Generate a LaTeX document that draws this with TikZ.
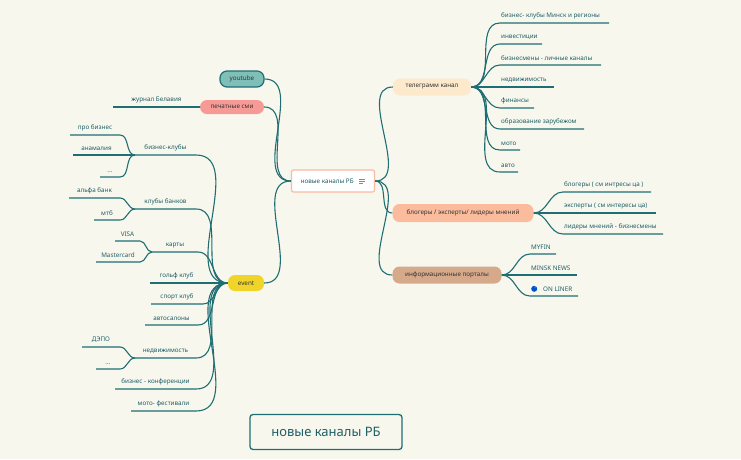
\documentclass[tikz,border=0pt]{standalone}
\usepackage{fontspec}
\setmainfont{Noto Sans}
\begin{document}
\begin{tikzpicture}[x=1pt,y=-1pt,
  ln/.style={draw=lc,line width=1.1pt},
  tx/.style={text=tc,font=\fontsize{6.3}{7}\selectfont,inner sep=1pt},
  pill/.style={rounded corners=7pt,draw=none,text=black!80,font=\fontsize{6.3}{7}\selectfont,inner sep=0pt,minimum height=16pt}]
\definecolor{lc}{HTML}{1E6E73}
\definecolor{tc}{HTML}{1D5F66}
\definecolor{bg}{HTML}{F8F7EE}
\fill[bg] (0,0) rectangle (741,459);
\useasboundingbox (0,0) rectangle (741,459);
% main nodes
\node[draw={rgb,255:red,250;green,185;blue,160},line width=1.2pt,fill=white,rounded corners=2pt,minimum width=83pt,minimum height=22pt,inner sep=0pt,font=\fontsize{6.3}{7}\selectfont,text=tc] (c) at (333,181) {новые каналы РБ\hspace{5pt}\raisebox{0.3pt}{\tikz[x=1pt,y=1pt]{\draw[lc!70,line width=0.6pt] (0,4)--(6,4) (0,2)--(6,2) (0,0)--(4,0);}}};
\node[pill,fill={rgb,255:red,127;green,191;blue,184},draw=lc,line width=1.2pt,minimum width=44pt] (yt) at (242,79) {youtube};
\node[pill,fill={rgb,255:red,247;green,154;blue,150},minimum width=64pt,minimum height=14pt] (pr) at (232,107) {печатные сми};
\node[pill,fill={rgb,255:red,241;green,212;blue,42},minimum width=36pt] (ev) at (246,283) {event};
\node[pill,fill={rgb,255:red,253;green,233;blue,204},minimum width=78pt,minimum height=17pt] (tg) at (432,87) {телеграмм канал};
\node[pill,fill={rgb,255:red,251;green,187;blue,157},minimum width=141pt,minimum height=18pt] (bl) at (463,213) {блогеры / эксперты/ лидеры мнений};
\node[pill,fill={rgb,255:red,214;green,169;blue,139},minimum width=109pt,minimum height=17pt] (ip) at (447,275) {информационные порталы};
\node[draw=lc,line width=1.3pt,rounded corners=3pt,fill=bg,minimum width=152pt,minimum height=35pt,font=\bfseries\fontsize{13}{15}\selectfont,text=tc] (title) at (326,432) {новые каналы РБ};
% center connectors
\foreach \n in {yt,pr,ev} \draw[ln] (c.west) to[out=180,in=0] (\n.east);
\foreach \n in {tg,bl,ip} \draw[ln] (c.east) to[out=0,in=180] (\n.west);
% right leaves: parent, name, xs, xe, y, text
\newcommand{\rlf}[6]{%
  \coordinate (#2s) at (#3,#5); \coordinate (#2e) at (#4,#5);
  \draw[ln] (#1.east) to[out=0,in=180] (#2s) -- (#2e);
  \node[tx,anchor=south west] (#2) at (#3,#5-3) {#6};}
\rlf{tg}{t1}{500}{609}{23}{бизнес- клубы Минск и регионы}
\rlf{tg}{t2}{500}{542}{44}{инвестиции}
\rlf{tg}{t3}{500}{601}{65}{бизнесмены - личные каналы}
\rlf{tg}{t4}{500}{554}{87}{недвижимость}
\rlf{tg}{t5}{500}{534}{108}{финансы}
\rlf{tg}{t6}{500}{584}{129}{образование зарубежом}
\rlf{tg}{t7}{500}{520}{150}{мото}
\rlf{tg}{t8}{500}{518}{172}{авто}
\rlf{bl}{b1}{563}{651}{192}{блогеры ( см интресы ца )}
\rlf{bl}{b2}{563}{656}{213}{эксперты ( см интересы ца)}
\rlf{bl}{b3}{563}{663}{234}{лидеры мнений - бизнесмены}
\rlf{ip}{p1}{530}{556}{254}{MYFIN}
\rlf{ip}{p2}{530}{577}{275}{MINSK NEWS}
\rlf{ip}{p3}{530}{578}{296}{\textcolor{blue!60}{\raisebox{-0.5pt}{\tikz[x=1pt,y=1pt]{\fill[blue!60!cyan!80!black] (0,0) circle (3pt); \node[text=white,font=\bfseries\fontsize{4.5}{5}\selectfont,inner sep=0] at (0,0) {?};}}}\hspace{6pt}ON LINER}
% left leaves: parent anchor point, name, xs(right end near parent), xe(left end), y, text
\newcommand{\llf}[6]{%
  \coordinate (#2s) at (#3,#5); \coordinate (#2e) at (#4,#5);
  \draw[ln] (#1) to[out=180,in=0] (#2s) -- (#2e);
  \node[tx,anchor=south] (#2) at ({(#3+#4)/2},#5-3) {#6};}
\llf{pr.west}{jb}{200}{113}{107}{журнал Белавия}
\llf{ev.west}{e1}{196}{135}{155}{бизнес-клубы}
\llf{ev.west}{e2}{196}{135}{209}{клубы банков}
\llf{ev.west}{e3}{198}{152}{252}{карты}
\llf{ev.west}{e4}{203}{150}{283}{гольф клуб}
\llf{ev.west}{e5}{203}{151}{304}{спорт клуб}
\llf{ev.west}{e6}{198}{145}{325}{автосалоны}
\llf{ev.west}{e7}{196}{135}{358}{недвижимость}
\llf{ev.west}{e8}{196}{115}{389}{бизнес - конференции}
\llf{ev.west}{e9}{196}{131}{411}{мото- фестивали}
\llf{e1e}{s1}{120}{70}{135}{про бизнес}
\llf{e1e}{s2}{120}{73}{155}{анамалия}
\llf{e1e}{s3}{120}{100}{177}{...}
\llf{e2e}{s4}{120}{69}{198}{альфа банк}
\llf{e2e}{s5}{120}{94}{220}{мтб}
\llf{e3e}{s6}{140}{115}{241}{VISA}
\llf{e3e}{s7}{140}{96}{262}{Mastercard}
\llf{e7e}{s8}{120}{82}{347}{ДЭПО}
\llf{e7e}{s9}{120}{96}{369}{...}
\end{tikzpicture}
\end{document}
